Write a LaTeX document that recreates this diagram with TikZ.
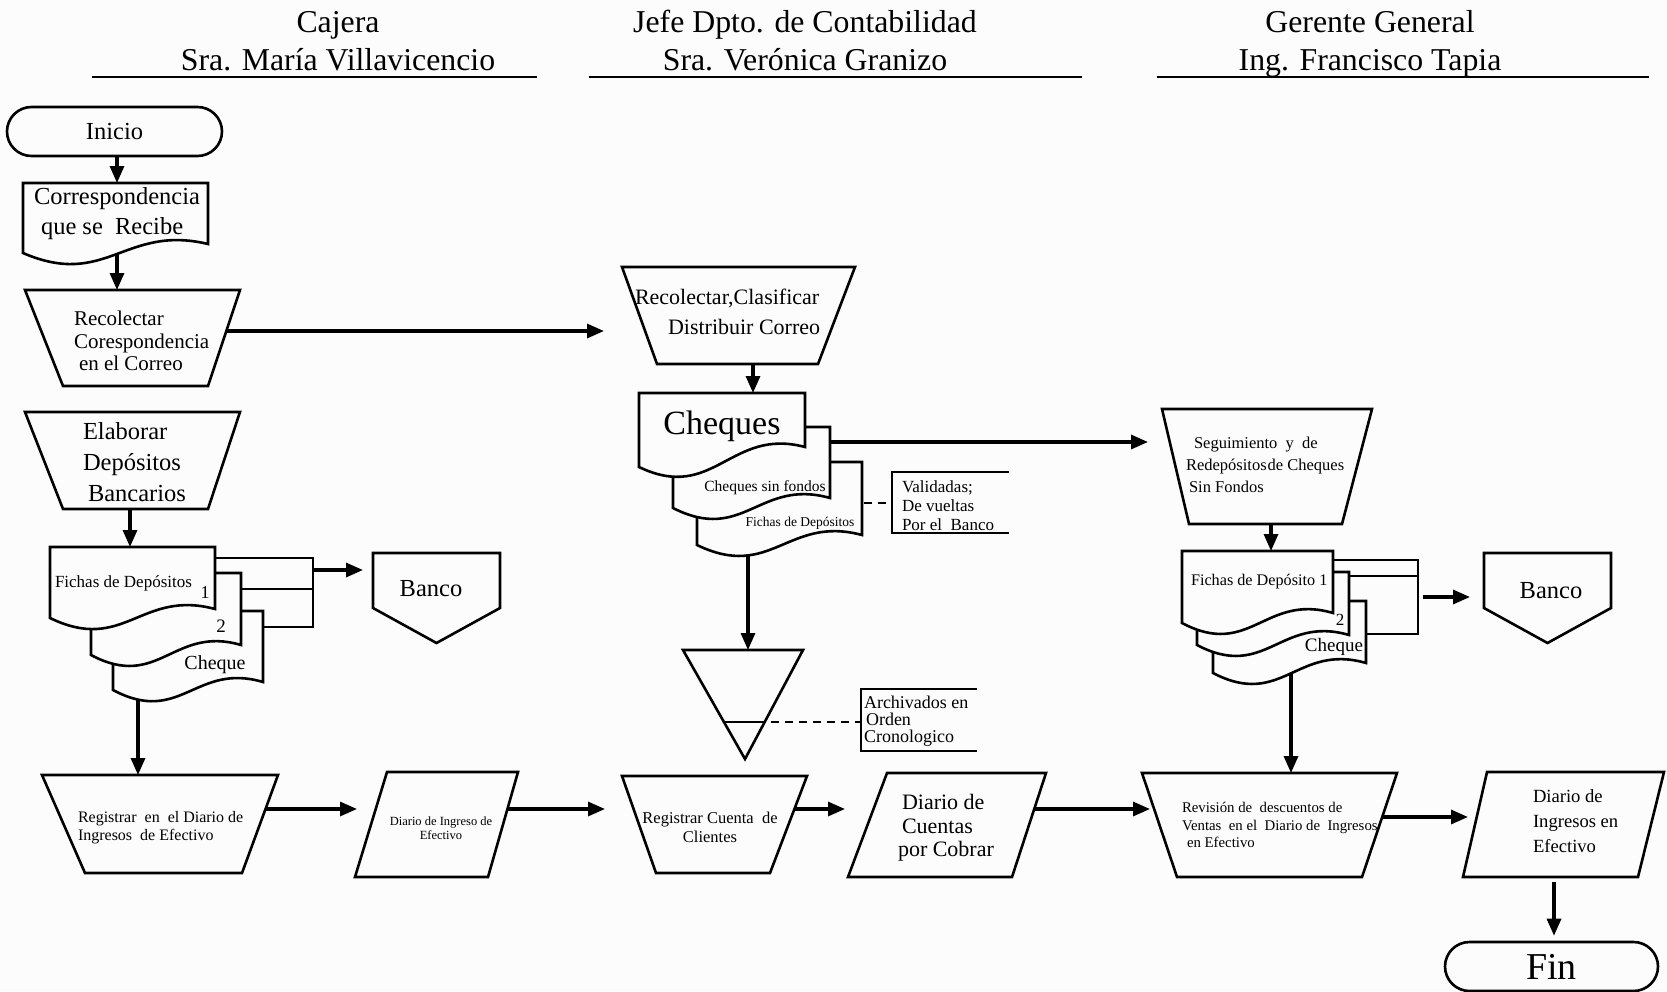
\documentclass[tikz,border=0pt]{standalone}
\usepackage{fontspec}
\setmainfont{Liberation Serif}
\usetikzlibrary{arrows.meta,fit,calc}
\definecolor{bgc}{RGB}{252,252,252}
\pgfdeclarelayer{back}
\pgfdeclarelayer{conn}
\pgfsetlayers{back,conn,main}
\newcommand\fs[2]{\fontsize{#1}{#2}\selectfont}
\tikzset{
  shp/.style={draw=black, line width=2.6pt, fill=bgc, line join=miter},
  brk/.style={line width=2.4pt},
  hdr/.style={line width=2pt},
  arr/.style={line width=3.2pt, -{Triangle[length=17pt,width=14pt]}},
  dsh/.style={line width=2.4pt, dash pattern=on 8pt off 6pt},
  bb/.style={inner sep=0pt, outer sep=0pt},
  txt/.style={inner sep=0pt, outer sep=0pt, text=black},
  head/.style={txt, anchor=base, font=\fs{31.8}{36}},
  term/.style={shp, rounded corners=24.5pt, minimum width=215pt, minimum height=49pt, inner sep=0pt},
}
% general quadrilateral: name, xTL, xTR, yT, xBL, xBR, yB
\newcommand\quadr[7]{%
  \draw[shp] (#2,#4) -- (#3,#4) -- (#6,#7) -- (#5,#7) -- cycle;
  \node[bb, fit={(#2,#4) (#3,#4) (#5,#7) (#6,#7)}] (#1) {};}
% document: name, xL, xR, yT, yRightBottom, yLeftBottom
\newcommand\docsh[6]{%
  \draw[shp] (#2,#4) -- (#3,#4) -- (#3,#5) .. controls ({#3-0.45*(#3-#2)},{#5-20}) and ({#2+0.45*(#3-#2)},{#6+36}) .. (#2,#6) -- cycle;
  \node[bb, fit={(#2,#4) (#3,#6)}] (#1) {};}
% off-page connector: name, xL, xR, yT, ySide, yPoint
\newcommand\bank[6]{%
  \draw[shp] (#2,#4) -- (#3,#4) -- (#3,#5) -- ({(#2+#3)/2},#6) -- (#2,#5) -- cycle;
  \node[bb, fit={(#2,#4) (#3,#6)}] (#1) {};}
\begin{document}
\begin{tikzpicture}[x=1pt, y=-1pt]
\useasboundingbox (0,0) rectangle (1667,991);
\begin{pgfonlayer}{back}
  \fill[bgc] (0,0) rectangle (1667,991);
\end{pgfonlayer}

% headers
\node[head] (hc1) at (338,32.5) {Cajera};
\node[head] (hc2) at (338,70) {Sra. María Villavicencio};
\node[head] (hj1) at (805,32.5) {Jefe Dpto. de Contabilidad};
\node[head] (hj2) at (805,70) {Sra. Verónica Granizo};
\node[head] (hg1) at (1370,32.5) {Gerente General};
\node[head] (hg2) at (1370,70) {Ing. Francisco Tapia};
\draw[hdr] (92,77) -- (537,77);
\draw[hdr] (589,77) -- (1082,77);
\draw[hdr] (1157,77) -- (1649,77);

% terminals
\node[term, font=\fs{24.5}{29}] (ini) at (114.5,131.5) {Inicio};
\node[term, minimum width=213pt, font=\fs{38}{40}] (fin) at (1551.5,966.5) {Fin};

% left column
\docsh{corr}{23}{208}{183}{244}{253}
\quadr{rec1}{25}{240}{290}{63}{208}{386}
\quadr{elab}{25}{240}{412}{63}{208}{509}
\docsh{fl3}{113}{263}{611}{682}{690}
\docsh{fl2}{91}{241}{573}{645}{655}
\docsh{fl1}{50}{215}{547}{609}{618}
\bank{bl}{373}{500}{553}{608}{643}

% middle column
\quadr{rcc}{622}{855}{267}{657}{818}{364}
\docsh{cq3}{697}{862}{462}{535}{545}
\docsh{cq2}{673}{830}{427}{498}{508}
\docsh{cq1}{639}{805}{393}{447}{467}
\draw[shp] (683,650) -- (803,650) -- (745,759) -- cycle;
\node[bb, fit={(683,650) (803,759)}] (tri) {};
\draw[brk] (724,722) -- (765,722);
\draw[brk] (1009,472) -- (892,472) -- (892,533) -- (1009,533);
\node[bb, fit={(892,472) (1009,533)}] (val) {};
\draw[brk] (977,689) -- (861,689) -- (861,751) -- (977,751);
\node[bb, fit={(861,689) (977,751)}] (arc) {};

% right column
\quadr{seg}{1162}{1372}{409}{1189}{1342}{524}
\docsh{fr3}{1213}{1366}{601}{663}{673}
\docsh{fr2}{1197}{1349}{572}{635}{645}
\docsh{fr1}{1182}{1333}{551}{613}{623}
\bank{br}{1484}{1611}{553}{608}{643}

% bottom row
\quadr{reg}{42}{278}{775}{85}{242}{873}
\quadr{dil}{387}{518}{772}{355}{488}{877}
\quadr{rcu}{622}{807}{776}{656}{770}{873}
\quadr{dcu}{887}{1046}{773}{848}{1012}{877}
\quadr{rev}{1142}{1397}{773}{1177}{1362}{877}
\quadr{dii}{1487}{1664}{772}{1463}{1638}{877}

% junction coordinates
\coordinate (jlt) at (313,558);
\coordinate (jlb) at (313,627);
\coordinate (jl) at (313,570);
\coordinate (jrt) at (1418,560);
\coordinate (jrb) at (1418,634);
\coordinate (jr) at (1418,597);

% texts
\node[txt, anchor=west, align=left, font=\fs{24.5}{30}] (tcorr) at (34,214) {Correspondencia\\\hspace*{7pt}que se~ Recibe};
\node[txt, anchor=west, align=left, font=\fs{21}{22.5}] (trec1) at (74,341) {Recolectar\\Corespondencia\\\hspace*{5pt}en el Correo};
\node[txt, anchor=west, align=left, font=\fs{24.5}{31}] (telab) at (83,462) {Elaborar\\Depósitos\\\hspace*{5pt}Bancarios};
\node[txt, anchor=west, font=\fs{17}{20}] (tfl) at (55,583) {Fichas de Depósitos};
\node[txt, font=\fs{18}{20}] (tfl1) at (205,593) {1};
\node[txt, font=\fs{19}{20}] (tfl2) at (221,626) {2};
\node[txt, font=\fs{20}{22}] (tfl3) at (215,665) {Cheque};
\node[txt, font=\fs{24.5}{28}] (tbl) at (431,589) {Banco};
\node[txt, anchor=west, align=left, font=\fs{22}{30}] (trcc) at (635,312) {Recolectar,Clasificar\\\hspace*{33pt}Distribuir Correo};
\node[txt, font=\fs{34}{36}] (tcq1) at (722,426) {Cheques};
\node[txt, font=\fs{15.5}{18}] (tcq2) at (765,488) {Cheques sin fondos};
\node[txt, font=\fs{13.5}{15}] (tcq3) at (800,523) {Fichas de Depósitos};
\node[txt, anchor=west, align=left, font=\fs{17}{19}] (tval) at (902,506) {Validadas;\\De vueltas\\Por el~ Banco};
\node[txt, anchor=west, align=left, font=\fs{18}{17}] (tarc) at (864,721) {Archivados en\\\hspace*{2pt}Orden\\Cronologico};
\node[txt, anchor=west, align=left, font=\fs{16.5}{22}] (tseg) at (1186,465) {\hspace*{8pt}Seguimiento~ y~ de\\Redepósitos\hspace{1pt}de Cheques\\\hspace*{3pt}Sin Fondos};
\node[txt, anchor=west, font=\fs{16.2}{20}] (tfr) at (1191,582) {Fichas de Depósito 1};
\node[txt, font=\fs{17}{20}] (tfr2) at (1340,620) {2};
\node[txt, font=\fs{19}{22}] (tfr3) at (1334,647) {Cheque};
\node[txt, font=\fs{24.5}{28}] (tbr) at (1551,591) {Banco};
\node[txt, anchor=west, align=left, font=\fs{16}{18}] (treg) at (78,828) {Registrar~ en~ el Diario de\\Ingresos~ de Efectivo};
\node[txt, align=center, font=\fs{12.5}{14.5}] (tdil) at (441,828) {Diario de Ingreso de\\Efectivo};
\node[txt, align=center, font=\fs{16.5}{19}] (trcu) at (710,827) {Registrar Cuenta~ de\\Clientes};
\node[txt, anchor=west, align=left, font=\fs{22}{23.5}] (tdcu) at (902,828) {Diario de\\Cuentas\\\hspace*{-4pt}por Cobrar};
\node[txt, anchor=west, align=left, font=\fs{14.8}{17.5}] (trev) at (1182,825) {Revisión de~ descuentos de\\Ventas~ en el~ Diario de~ Ingresos\\\hspace*{5pt}en Efectivo};
\node[txt, anchor=west, align=left, font=\fs{18.6}{25}] (tdii) at (1533,821) {Diario de\\Ingresos en\\Efectivo};

% connectors (below the shapes)
\begin{pgfonlayer}{conn}
\draw[arr] (ini -| 117,0) -- (corr.north -| 117,0);
\draw[arr] (corr -| 117,0) -- (rec1.north -| 117,0);
\draw[arr, shorten >=18pt] (rec1 |- 0,331) -- (rcc.west |- 0,331);
\draw[arr] (rcc -| 753,0) -- (cq1.north -| 753,0);
\draw[arr] (elab -| 130,0) -- (fl1.north -| 130,0);
\draw[brk] (fl1 |- jlt) -- (jlt) -- (jlb) -- (fl3 |- jlb);
\draw[brk] (fl2 |- 0,589) -- (jlt |- 0,589);
\draw[arr, shorten >=10pt] (jl) -- (bl.west |- jl);
\draw[arr] (fl3 -| 138,0) -- (reg.north -| 138,0);
\draw[arr, shorten >=-2pt] (reg |- 0,809) -- (dil.west |- 0,809);
\draw[arr, shorten >=17pt] (dil |- 0,809) -- (rcu.west |- 0,809);
\draw[arr, shorten >=3pt] (rcu |- 0,809) -- (dcu.west |- 0,809);
\draw[arr, shorten >=-8pt] (dcu |- 0,809) -- (rev.west |- 0,809);
\draw[arr, shorten >=-5pt] (rev |- 0,817) -- (dii.west |- 0,817);
\draw[arr, shorten <=5pt, shorten >=5pt] (dii.south -| 1554,0) -- (fin.north -| 1554,0);
\draw[arr] (cq3 -| 748,0) -- (tri.north -| 748,0);
\draw[dsh] (tri |- 0,722) -- (arc.west |- 0,722);
\draw[arr, shorten >=14pt] (cq2 |- 0,442) -- (seg.west |- 0,442);
\draw[dsh] (cq3 |- 0,503) -- (val.west |- 0,503);
\draw[arr] (seg -| 1271,0) -- (fr1.north -| 1271,0);
\draw[brk] (fr1 |- jrt) -- (jrt) -- (jrb) -- (fr3 |- jrb);
\draw[brk] (fr2 |- 0,576) -- (jrt |- 0,576);
\draw[arr, shorten <=5pt, shorten >=14pt] (jr) -- (br.west |- jr);
\draw[arr] (fr3 -| 1291,0) -- (rev.north -| 1291,0);
\end{pgfonlayer}
\end{tikzpicture}
\end{document}
